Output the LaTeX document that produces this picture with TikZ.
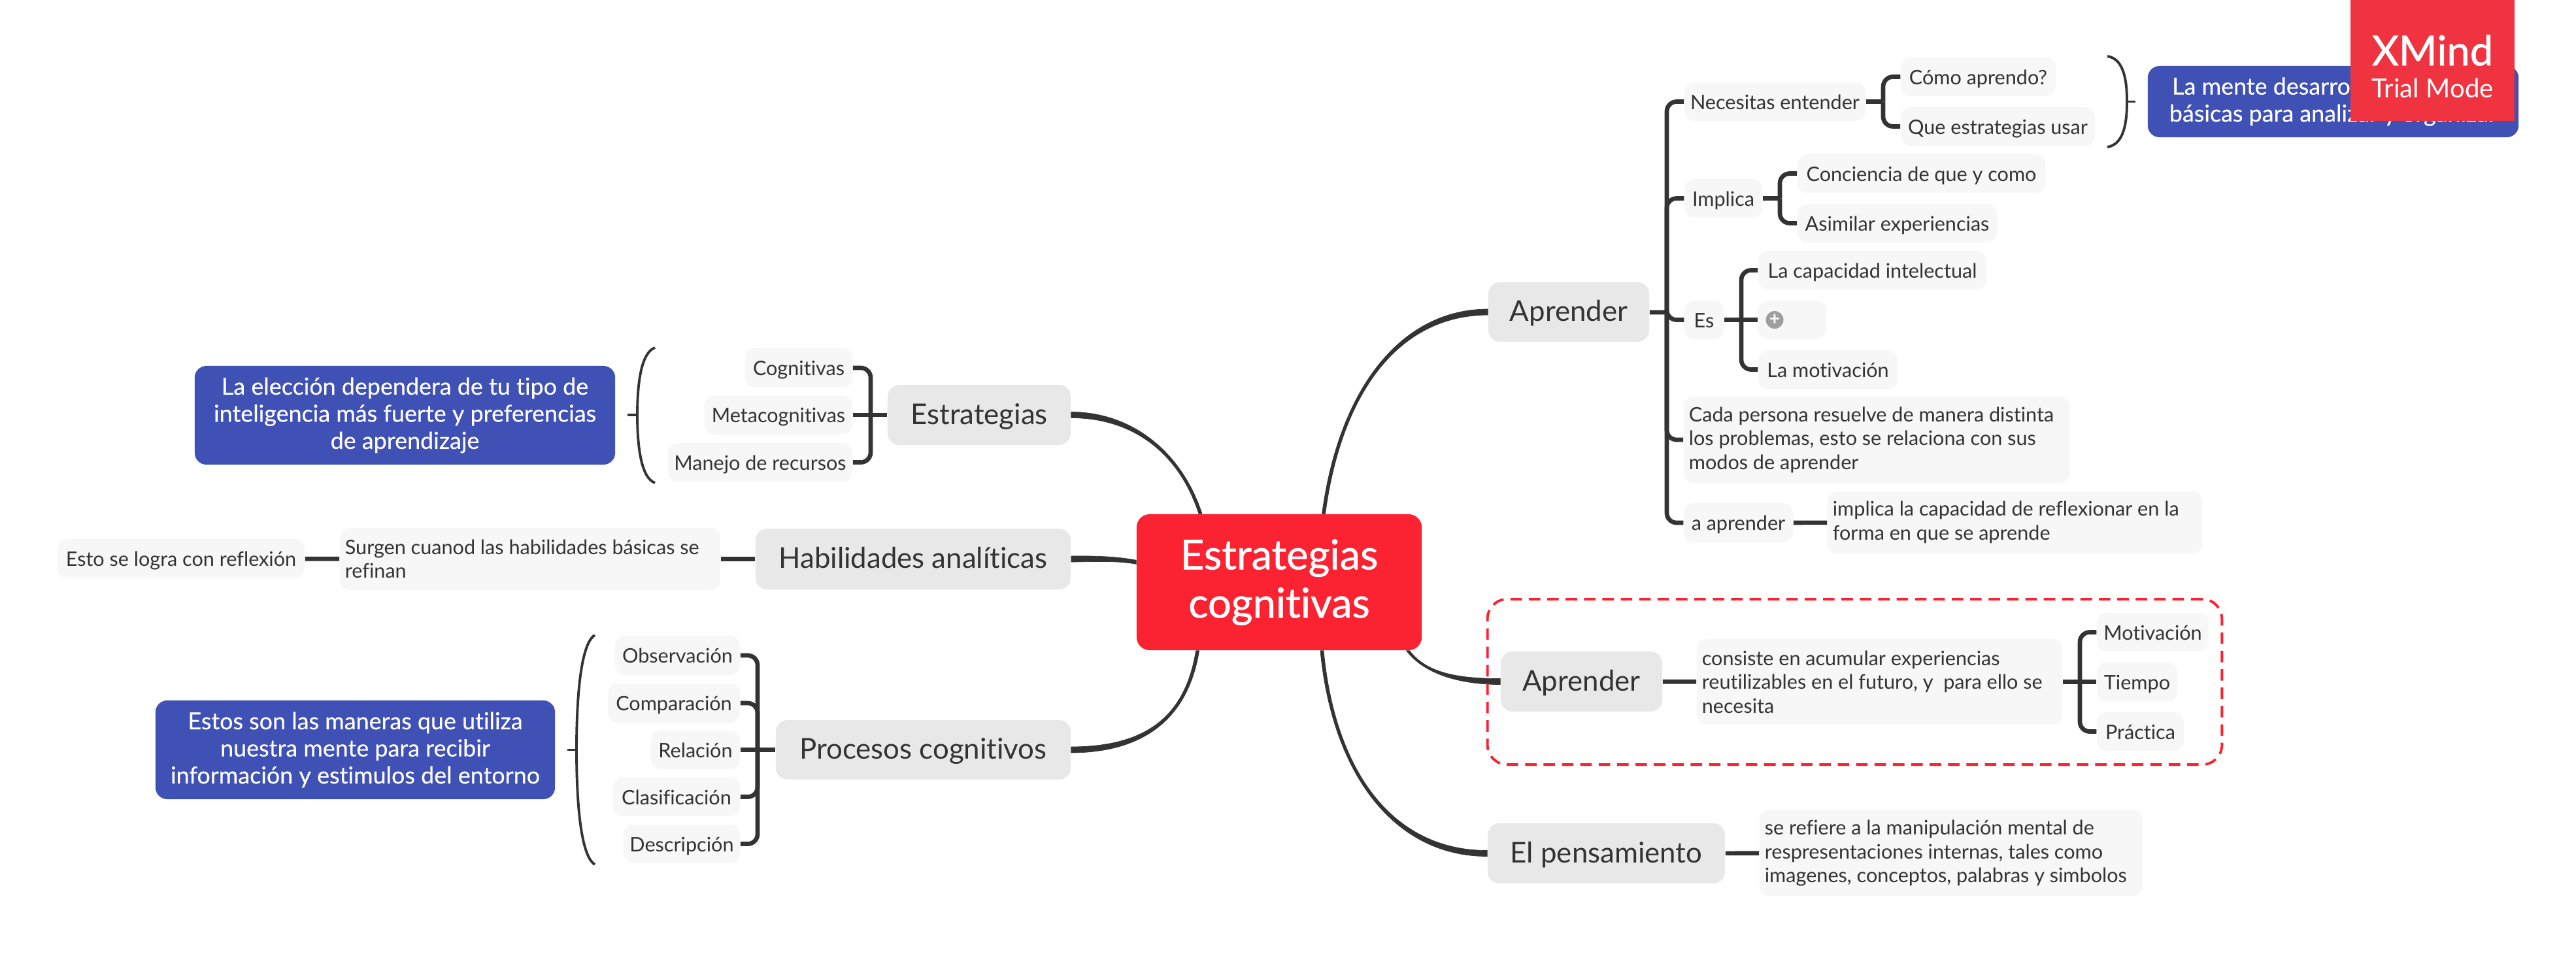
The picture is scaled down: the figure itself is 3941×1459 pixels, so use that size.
\documentclass[tikz,border=0pt]{standalone}
\usepackage{fontspec}
\setmainfont{Lato}[Ligatures=NoCommon]
\usepackage{xcolor}
\usetikzlibrary{calc,positioning}
\definecolor{grisrama}{HTML}{333333}
\definecolor{grishoja}{HTML}{F7F7F7}
\definecolor{gristema}{HTML}{E8E8E8}
\definecolor{azulnota}{HTML}{4051B5}
\definecolor{rojocentro}{HTML}{FB2231}
\definecolor{rojomarca}{HTML}{EF3340}
\tikzset{
  ancho/.style={minimum width=#1cm},
  alto/.style={minimum height=#1cm},
  hoja/.style={fill=grishoja, text=grisrama, rounded corners=.15cm, inner sep=0pt, alto=.59,
    text height=8.6pt, text depth=2pt, align=flush left, font=\fontsize{8.7}{10.4}\selectfont},
  varias/.style={text height=, text depth=, text width=#1cm},
  tema/.style={fill=gristema, text=grisrama, rounded corners=.18cm, inner sep=0pt, alto=.92,
    text height=10.6pt, text depth=2.6pt, font=\fontsize{12.45}{14}\selectfont},
  nota/.style={fill=azulnota, text=white, rounded corners=.18cm, inner sep=0pt,
    align=center, font=\fontsize{10.2}{11.8}\selectfont\addfontfeature{FakeBold=0.25}},
  enlace/.style={draw=grisrama, fill=grisrama, line width=.2pt},
  rama/.style={draw=grisrama, line width=1.9pt, rounded corners=.15cm},
  llave/.style={draw=grisrama, line width=1.1pt}
}
\begin{document}
\begin{tikzpicture}[x=0.01cm,y=-0.01cm]
\useasboundingbox (0,0) rectangle (3941,1459);
% Centro
\node[fill=rojocentro, text=white, rounded corners=.2cm, ancho=4.36, alto=2.08, inner sep=0pt,
  align=center, font=\fontsize{18}{21}\selectfont\addfontfeature{FakeBold=0.8}] (central) at (1957,891) {Estrategias\ \\cognitivas};
% Temas derecha
\node[tema, ancho=2.46, alto=.91] (aprender) at (2400,477.5) {Aprender};
\node[tema, ancho=2.47] (aprendizaje) at (2419.5,1043) {Aprender};
\node[tema, ancho=3.63] (pensamiento) at (2457.5,1306) {El pensamiento};
% Temas izquierda
\node[tema, ancho=2.80] (estrategias) at (1498,635) {Estrategias};
\node[tema, ancho=4.82, alto=.93] (habilidades) at (1397,855.5) {Habilidades analíticas};
\node[tema, ancho=4.51, alto=.91] (procesos) at (1412.5,1147.5) {Procesos cognitivos};
% Enlaces del centro, mas gruesos hacia el tema
\draw[enlace] ($(central.57.6)+(-2.5,0)$) .. controls (2047.5,600) and (2140,473.5) .. ($(aprender.west)+(0,-4.5)$)
  -- ($(aprender.west)+(0,4.5)$) .. controls (2140,482.5) and (2052.5,600) .. ($(central.57.6)+(2.5,0)$) -- cycle;
\draw[enlace] ($(central.332.2)+(2.5,0)$) .. controls (2182.5,1030) and (2230,1038.5) .. ($(aprendizaje.west)+(0,-4.5)$)
  -- ($(aprendizaje.west)+(0,4.5)$) .. controls (2230,1047.5) and (2177.5,1030) .. ($(central.332.2)+(-2.5,0)$) -- cycle;
\draw[enlace] ($(central.302.4)+(2.5,0)$) .. controls (2042.5,1180) and (2130,1301.5) .. ($(pensamiento.west)+(0,-4.5)$)
  -- ($(pensamiento.west)+(0,4.5)$) .. controls (2130,1310.5) and (2037.5,1180) .. ($(central.302.4)+(-2.5,0)$) -- cycle;
\draw[enlace] ($(estrategias.east)+(0,-4.5)$) .. controls (1730,630.5) and (1807.5,690) .. ($(central.139.6)+(2.5,0)$)
  -- ($(central.139.6)+(-2.5,0)$) .. controls (1802.5,690) and (1730,639.5) .. ($(estrategias.east)+(0,4.5)$) -- cycle;
\draw[enlace] ($(habilidades.east)+(0,-4.5)$) .. controls (1680,850.5) and (1710,852) .. ($(central.172.4)+(0,-3)$)
  -- ($(central.172.4)+(0,3)$) .. controls (1710,858) and (1680,859.5) .. ($(habilidades.east)+(0,4.5)$) -- cycle;
\draw[enlace] ($(procesos.east)+(0,-4.5)$) .. controls (1750,1142.5) and (1812.5,1100) .. ($(central.220.4)+(-2.5,0)$)
  -- ($(central.220.4)+(2.5,0)$) .. controls (1817.5,1100) and (1750,1151.5) .. ($(procesos.east)+(0,4.5)$) -- cycle;
% Aprender
\node[hoja, ancho=2.77] (necesitas) at (2715.5,155.5) {Necesitas entender};
\node[hoja, ancho=2.37] (como) at (3026.5,117.5) {Cómo aprendo?};
\node[hoja, ancho=2.97] (que) at (3056.5,193.5) {Que estrategias usar};
\node[hoja, ancho=1.19] (implica) at (2636.5,303.5) {Implica};
\node[hoja, ancho=3.79] (conciencia) at (2939.5,265.5) {Conciencia de que y como};
\node[hoja, ancho=3.05] (asimilar) at (2902.5,341.5) {Asimilar experiencias};
\node[hoja, ancho=.60] (es) at (2607,489.5) {Es};
\node[hoja, ancho=3.49] (capacidad) at (2864.5,413.5) {La capacidad intelectual};
\node[hoja, ancho=1.04] (oculto) at (2742,489.5) {};
\node[hoja, ancho=2.13] (motivacion) at (2796.5,565.5) {La motivación};
\node[circle, fill=black!38, text=white, inner sep=0pt, minimum size=.27cm,
  font=\fontsize{8}{8}\selectfont\bfseries] (masicono) at (2715,489.5) {+};
\node[hoja, varias=5.74, ancho=5.90, alto=1.32] (cada) at (2871,673) {Cada persona resuelve de manera distinta\\los problemas, esto se relaciona con sus\\modos de aprender};
\node[hoja, ancho=1.67, alto=.60] (aaprender) at (2659.5,800) {a aprender};
\node[hoja, varias=5.57, ancho=5.73, alto=.95] (reflexionar) at (3082.5,799.5) {implica la capacidad de reflexionar en la\\forma en que se aprende};
\node[nota, ancho=5.67, alto=1.09] (mente) at (3569.5,155.5) {La mente desarrolla habilidades\\básicas para analizar y organizar};
\coordinate (japrender) at (2550,478);
\draw[rama] (aprender) -- (japrender);
\foreach \hijo in {necesitas,implica,es,cada,aaprender}
  \draw[rama] (japrender) |- (\hijo.west);
\coordinate (jnecesitas) at (2881,155.5);
\draw[rama] (necesitas) -- (jnecesitas);
\foreach \hijo in {como,que}
  \draw[rama] (jnecesitas) |- (\hijo.west);
\coordinate (jimplica) at (2723,303.5);
\draw[rama] (implica) -- (jimplica);
\foreach \hijo in {conciencia,asimilar}
  \draw[rama] (jimplica) |- (\hijo.west);
\coordinate (jes) at (2664,489.5);
\draw[rama] (es) -- (jes) -- (oculto);
\foreach \hijo in {capacidad,motivacion}
  \draw[rama] (jes) |- (\hijo.west);
\draw[rama] (aaprender) -- (reflexionar);
% Llave de la nota arriba
\coordinate (llavea) at (3224,86);
\coordinate (llaveb) at (3224,225);
\coordinate (llavem) at (3254,155.5);
\coordinate (llaves) at (3267,155.5);
\draw[llave] (llavea) .. controls (3250,90) and (3254,125) .. (llavem) .. controls (3254,186) and (3250,221) .. (llaveb);
\draw[rama, line width=1.1pt] (llavem) -- (llaves);
% Aprender con marco
\node[draw=rojocentro, line width=1.1pt, dash pattern=on 5pt off 3pt, rounded corners=.3cm, ancho=11.23, alto=2.53, inner sep=0pt] (marco) at (2837.5,1043.5) {};
\node[hoja, varias=5.43, ancho=5.59, alto=1.31] (consiste) at (2875.5,1043.5) {consiste en acumular experiencias\\reutilizables en el futuro, y\ \ para ello se\\necesita};
\node[hoja, ancho=1.71] (motiv) at (3293.5,967.5) {Motivación};
\node[hoja, ancho=1.23, alto=.60] (tiempo) at (3269.5,1043.5) {Tiempo};
\node[hoja, ancho=1.33] (practica) at (3274.5,1119.5) {Práctica};
\draw[rama] (aprendizaje) -- (consiste);
\coordinate (jconsiste) at (3182,1043.5);
\draw[rama] (consiste) -- (jconsiste) -- (tiempo);
\foreach \hijo in {motiv,practica}
  \draw[rama] (jconsiste) |- (\hijo.west);
% El pensamiento
\node[hoja, varias=5.70, ancho=5.86, alto=1.31] (refiere) at (2985,1305.5) {se refiere a la manipulación mental de\\respresentaciones internas, tales como\\imagenes, conceptos, palabras y simbolos};
\draw[rama] (pensamiento) -- (refiere);
% Estrategias
\node[hoja, ancho=1.64, alto=.60] (cognitivas) at (1222,563) {Cognitivas};
\node[hoja, ancho=2.26, alto=.60] (metacog) at (1191,635) {Metacognitivas};
\node[hoja, ancho=2.82] (manejo) at (1163,707.5) {Manejo de recursos};
\node[nota, ancho=6.43, alto=1.51] (eleccion) at (619.5,635.5) {La elección dependera de tu tipo de\\inteligencia más fuerte y preferencias\\de aprendizaje};
\coordinate (jestrategias) at (1332,635);
\draw[rama] (estrategias) -- (jestrategias) -- (metacog);
\foreach \hijo in {cognitivas,manejo}
  \draw[rama] (jestrategias) |- (\hijo.east);
\coordinate (llavec) at (1002,532);
\coordinate (llaved) at (1002,739);
\coordinate (llaven) at (975,635);
\coordinate (llavet) at (960,635);
\draw[llave] (llavec) .. controls (980,540) and (975,590) .. (llaven) .. controls (975,680) and (980,731) .. (llaved);
\draw[rama, line width=1.1pt] (llaven) -- (llavet);
% Habilidades
\node[hoja, varias=5.66, ancho=5.82, alto=.95] (surgen) at (811,855.5) {Surgen cuanod las habilidades básicas se\\refinan};
\node[hoja, ancho=3.78, alto=.60] (logra) at (277,855) {Esto se logra con reflexión};
\draw[rama] (habilidades) -- (surgen);
\draw[rama] (surgen) -- (logra);
% Procesos
\node[hoja, ancho=1.91, alto=.60] (observacion) at (1036.5,1003) {Observación};
\node[hoja, ancho=2.02, alto=.60] (comparacion) at (1031,1076) {Comparación};
\node[hoja, ancho=1.36] (relacion) at (1064,1147.5) {Relación};
\node[hoja, ancho=1.94] (clasificacion) at (1035,1219.5) {Clasificación};
\node[hoja, ancho=1.78] (descripcion) at (1043,1291.5) {Descripción};
\node[nota, ancho=6.11, alto=1.51] (estos) at (543.5,1147.5) {Estos son las maneras que utiliza\\nuestra mente para recibir\\información y estimulos del entorno};
\coordinate (jprocesos) at (1159,1147.5);
\draw[rama] (procesos) -- (jprocesos) -- (relacion);
\foreach \hijo in {observacion,comparacion,clasificacion,descripcion}
  \draw[rama] (jprocesos) |- (\hijo.east);
\coordinate (llavee) at (910,972);
\coordinate (llavef) at (910,1323);
\coordinate (llaveg) at (882,1147.5);
\coordinate (llaveh) at (868,1147.5);
\draw[llave] (llavee) .. controls (888,985) and (882,1070) .. (llaveg) .. controls (882,1225) and (888,1310) .. (llavef);
\draw[rama, line width=1.1pt] (llaveg) -- (llaveh);
% Marca de agua
\node[fill=rojomarca, text=white, ancho=2.51, alto=1.85, inner sep=0pt] (marca) at (3721.5,92.5) {};
\node[text=white, font=\fontsize{18}{18}\selectfont\addfontfeature{FakeBold=1}, inner sep=0pt] (xmind) at (3721.5,77) {XMind};
\node[text=white, font=\fontsize{11.4}{12}\selectfont, inner sep=0pt] (trial) at (3721.5,135) {Trial Mode};
\end{tikzpicture}
\end{document}
